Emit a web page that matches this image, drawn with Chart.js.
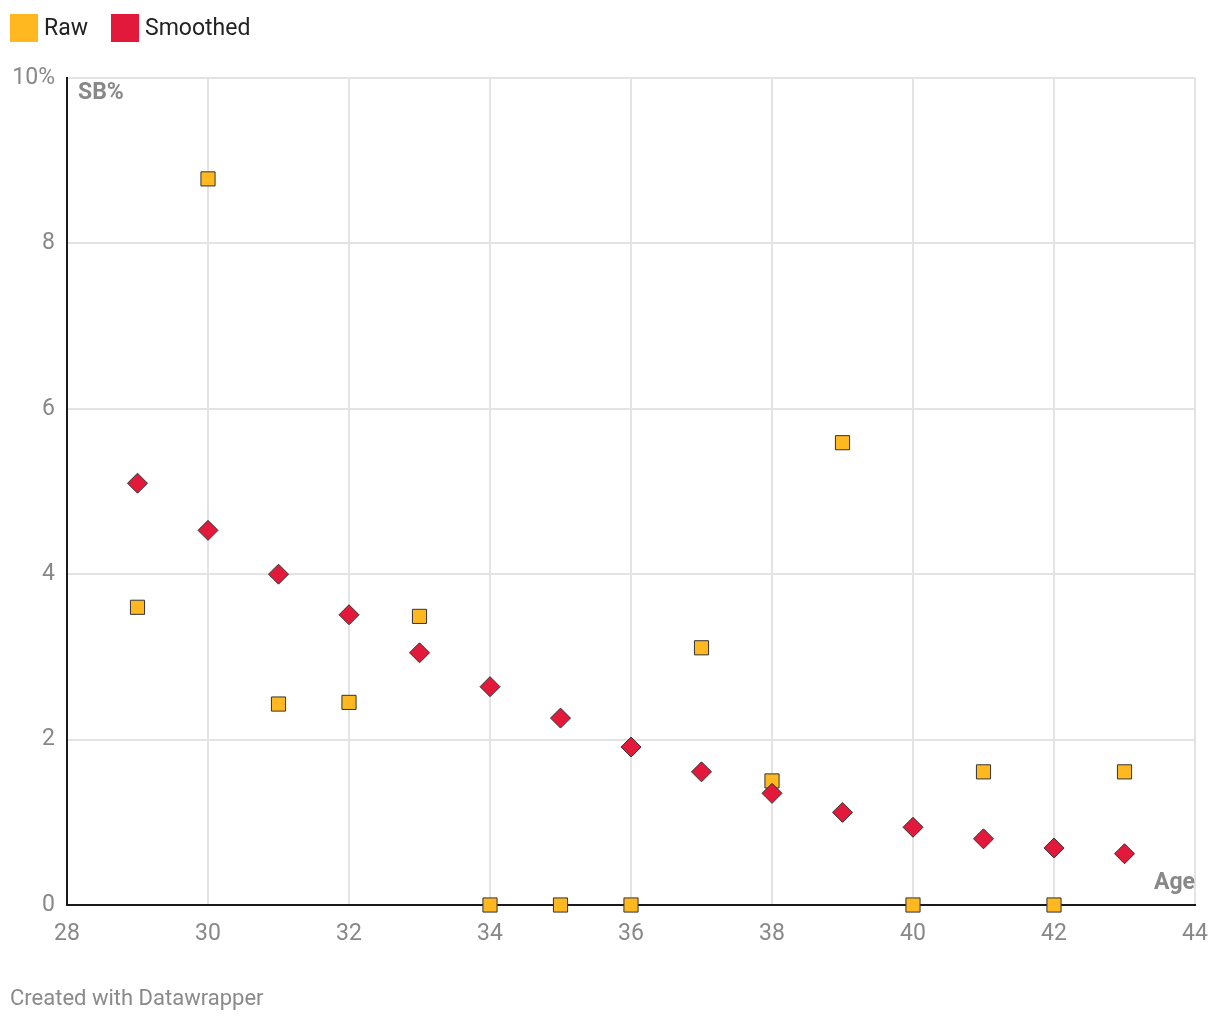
<!DOCTYPE html>
<html>
<head>
<meta charset="utf-8">
<script src="https://cdn.jsdelivr.net/npm/chart.js@4"></script>
<style>
  html, body { margin: 0; padding: 0; background: #fff; }
  body { width: 1220px; height: 1022px; position: relative; overflow: hidden; font-family: Roboto, sans-serif; }
  #wrap { position: absolute; left: 0; top: 0; width: 1220px; height: 1022px; }
  .legend { position: absolute; top: 14px; left: 10px; display: flex; align-items: center; font-size: 23px; color: #222; line-height: 28px; }
  .legend-item { display: flex; align-items: center; margin-right: 23px; }
  .legend-box { width: 28px; height: 28px; margin-right: 6px; }
  .axis-title { position: absolute; font-weight: bold; font-size: 23px; line-height: 28px; color: #888; }
  .footer { position: absolute; left: 10px; top: 985px; font-size: 22px; line-height: 26px; color: #8a8a8a; }
</style>
</head>
<body>
<div id="wrap"><canvas id="chart"></canvas></div>
<div class="legend" id="legend"></div>
<div class="axis-title" style="left:78px; top:78px;">SB%</div>
<div class="axis-title" style="right:25px; top:868px;">Age</div>
<div class="footer">Created with Datawrapper</div>
<script>
const ages = [29, 30, 31, 32, 33, 34, 35, 36, 37, 38, 39, 40, 41, 42, 43];
const rawValues = [3.60, 8.78, 2.43, 2.45, 3.49, 0, 0, 0, 3.11, 1.50, 5.59, 0, 1.61, 0, 1.61];
const smoothedValues = [5.10, 4.53, 4.00, 3.51, 3.05, 2.64, 2.26, 1.91, 1.61, 1.35, 1.12, 0.94, 0.80, 0.69, 0.62];
const seriesNames = ['Raw', 'Smoothed'];
const seriesColors = ['#ffb81f', '#e3193b'];
const xTicks = [28, 30, 32, 34, 36, 38, 40, 42, 44];
const yTicks = [0, 2, 4, 6, 8, 10];

const legend = document.getElementById('legend');
legend.innerHTML = seriesNames.map((name, i) => `
  <div class="legend-item">
    <span class="legend-box" style="background:${seriesColors[i]}"></span>
    <span>${name}</span>
  </div>`).join('');

const toPoints = (vals) => vals.map((v, i) => ({ x: ages[i], y: v }));

const ctx = document.getElementById('chart');
new Chart(ctx, {
  type: 'scatter',
  data: {
    datasets: [
      {
        label: 'Smoothed',
        data: toPoints(smoothedValues),
        pointStyle: 'rectRot',
        pointRadius: 10,
        pointHoverRadius: 10,
        backgroundColor: seriesColors[1],
        borderColor: '#333',
        borderWidth: 1,
        clip: false,
      },
      {
        label: 'Raw',
        data: toPoints(rawValues),
        pointStyle: 'rect',
        pointRadius: 10,
        pointHoverRadius: 10,
        backgroundColor: seriesColors[0],
        borderColor: '#333',
        borderWidth: 1,
        clip: false,
      },
    ],
  },
  options: {
    responsive: true,
    maintainAspectRatio: false,
    animation: false,
    layout: { padding: { left: 0, top: 78, right: 25, bottom: 0 } },
    plugins: { legend: { display: false }, tooltip: { enabled: false } },
    scales: {
      x: {
        type: 'linear',
        min: 28,
        max: 44,
        afterBuildTicks: (scale) => { scale.ticks = xTicks.map((v) => ({ value: v })); },
        afterFit: (scale) => {
          scale.height = 117;
          scale.paddingLeft = 0;
          scale.paddingRight = 0;
        },
        grid: { color: '#e3e3e3', lineWidth: 2, drawTicks: false },
        border: { display: true, color: '#1a1a1a', width: 2 },
        ticks: { color: '#888', font: { family: 'Roboto', size: 23 }, padding: 15 },
      },
      y: {
        type: 'linear',
        min: 0,
        max: 10,
        afterBuildTicks: (scale) => { scale.ticks = yTicks.map((v) => ({ value: v })); },
        afterFit: (scale) => {
          scale.width = 67;
          scale.paddingTop = 0;
          scale.paddingBottom = 0;
        },
        grid: { color: '#e3e3e3', lineWidth: 2, drawTicks: false },
        border: { display: true, color: '#1a1a1a', width: 2 },
        ticks: {
          color: '#888',
          font: { family: 'Roboto', size: 23 },
          padding: 12,
          callback: (v) => (v === 10 ? '10%' : String(v)),
        },
      },
    },
  },
});
</script>
</body>
</html>
